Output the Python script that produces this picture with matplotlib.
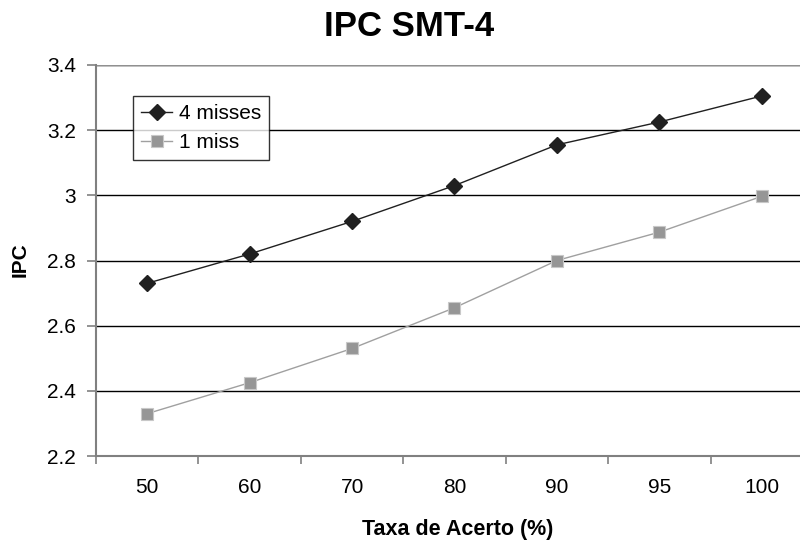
import matplotlib
matplotlib.use("Agg")
import matplotlib.pyplot as plt
import numpy as np

plt.rcParams['font.family'] = ['Liberation Sans', 'DejaVu Sans']

categories = ["50", "60", "70", "80", "90", "95", "100"]
ipc_4_misses = [2.73, 2.82, 2.92, 3.03, 3.155, 3.225, 3.305]
ipc_1_miss = [2.33, 2.425, 2.53, 2.655, 2.80, 2.887, 2.997]
y_ticks = [2.2, 2.4, 2.6, 2.8, 3.0, 3.2, 3.4]
y_tick_labels = ["2.2", "2.4", "2.6", "2.8", "3", "3.2", "3.4"]

W, H = 800, 542
fig = plt.figure(figsize=(W / 100, H / 100), dpi=100)
ax = fig.add_axes([96 / W, 1 - 456 / H, 717 / W, 391 / H])

x = np.arange(len(categories))

ax.plot(x, ipc_1_miss, color="#a0a0a0", linewidth=1.0, marker="s",
        markersize=9, markerfacecolor="#969696", markeredgecolor="#c8c8c8",
        markeredgewidth=0.8, label="1 miss", zorder=3)
ax.plot(x, ipc_4_misses, color="#202020", linewidth=1.0, marker="D",
        markersize=8, markerfacecolor="#202020", markeredgecolor="#202020",
        label="4 misses", zorder=4)

ax.set_xlim(-0.5, len(categories) - 0.5)
ax.set_ylim(2.2, 3.4)

# category labels centred, tick marks between categories
ax.set_xticks(x)
ax.set_xticklabels(categories, fontsize=15)
ax.tick_params(axis="x", which="major", length=0, pad=16)
ax.set_xticks(np.arange(-0.5, len(categories) + 0.5, 1.0), minor=True)
ax.tick_params(axis="x", which="minor", length=6, width=1.2, color="#808080",
               direction="out")

ax.set_yticks(y_ticks)
ax.set_yticklabels(y_tick_labels, fontsize=15)
ax.tick_params(axis="y", length=6.5, width=1.2, color="#808080", pad=8)

ax.yaxis.grid(True, color="#000000", linewidth=1.0)
ax.set_axisbelow(True)

for side in ("top", "right"):
    ax.spines[side].set_visible(False)
ax.spines["left"].set_color("#808080")
ax.spines["left"].set_linewidth(1.5)
ax.spines["bottom"].set_color("#808080")
ax.spines["bottom"].set_linewidth(1.5)
ax.axhline(3.4, color="#909090", linewidth=1.0, zorder=1)

fig.text(20.5 / W, 1 - 259.5 / H, "IPC", fontsize=15, fontweight="bold",
         rotation=90, ha="center", va="center")
fig.text(457.5 / W, 1 - 529 / H, "Taxa de Acerto (%)", fontsize=15.5,
         fontweight="bold", ha="center", va="center")
fig.text(409.5 / W, 1 - 26.5 / H, "IPC SMT-4", fontsize=25, fontweight="bold",
         ha="center", va="center")

handles, labels = ax.get_legend_handles_labels()
leg = ax.legend(handles[::-1], labels[::-1], loc="upper left",
                bbox_to_anchor=((133 - 96) / 717, (456 - 96) / 391),
                borderaxespad=0, fontsize=15, frameon=True, fancybox=False,
                handlelength=1.5, handletextpad=0.34, borderpad=0.38,
                labelspacing=0.5)
leg.get_frame().set_edgecolor("#000000")
leg.get_frame().set_linewidth(1.0)

fig.savefig("out.png", dpi=100)
